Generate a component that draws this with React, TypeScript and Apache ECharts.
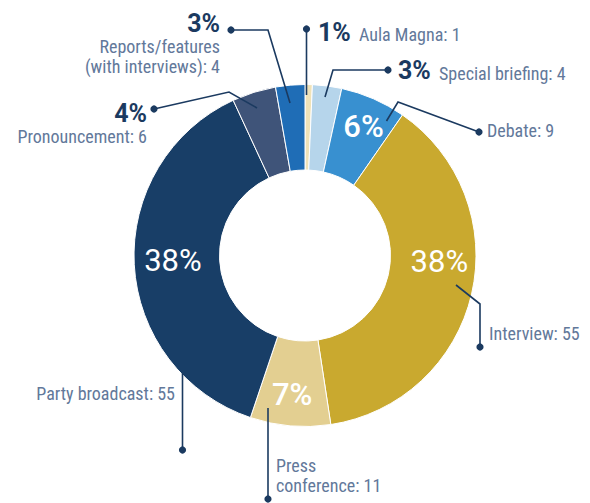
import React, { useEffect, useRef } from "react";
import * as echarts from "echarts";

// ---- data ----
const categories = [
  "Aula Magna",
  "Special briefing",
  "Debate",
  "Interview",
  "Press\nconference",
  "Party broadcast",
  "Pronouncement",
  "Reports/features\n(with interviews)",
];
const values = [1, 4, 9, 55, 11, 55, 6, 4];
const percentLabels = ["1%", "3%", "6%", "38%", "7%", "38%", "4%", "3%"];

// ---- styles / layout ----
const colors = ["#efe2b8", "#b6d5eb", "#3890d0", "#c9a92f", "#e3cf91", "#183e67", "#3f5479", "#1f6db6"];
const NAVY = "#1b3a60";
const LABEL = "#62789a";
const LABEL_FONT = '"Liberation Sans Narrow", "Roboto Condensed", "Noto Sans", sans-serif';
const PCT_FONT = 'Roboto, "Noto Sans", sans-serif';

// which slices carry their percentage inside, with offsets from the default inside position
const insideOffsets: Record<number, [number, number]> = {
  2: [6, -9],
  3: [6.5, -24],
  4: [-1.5, 8],
  5: [-1, -2],
};
const insideWeights: Record<number, number> = { 2: 500, 3: 400, 4: 500, 5: 400 };

type Ann = {
  idx: number;
  line: [number, number][];
  dot: [number, number];
  pct?: { x: number; y: number; align: "left" | "right" };
  text: { x: number; y: number; align: "left" | "right" };
};

const annotations: Ann[] = [
  { idx: 0, line: [[306.5, 29], [306.5, 95]], dot: [306.5, 29], pct: { x: 318, y: 41, align: "left" }, text: { x: 359, y: 41, align: "left" } },
  { idx: 1, line: [[388, 70], [333, 70], [325, 97]], dot: [388, 70], pct: { x: 398, y: 79, align: "left" }, text: { x: 439, y: 80, align: "left" } },
  { idx: 2, line: [[386.5, 121], [398, 102], [479, 132]], dot: [479, 132], text: { x: 487, y: 137, align: "left" } },
  { idx: 3, line: [[456, 285], [480, 304], [480, 347]], dot: [480, 347], text: { x: 489, y: 340, align: "left" } },
  { idx: 4, line: [[268, 408], [268, 499]], dot: [268, 499], text: { x: 276, y: 472, align: "left" } },
  { idx: 5, line: [[182.5, 373], [182.5, 450]], dot: [182.5, 450], text: { x: 175, y: 400, align: "right" } },
  { idx: 6, line: [[257, 108], [229, 92], [154, 109]], dot: [154, 109], pct: { x: 147, y: 122, align: "right" }, text: { x: 147, y: 143, align: "right" } },
  { idx: 7, line: [[290, 103], [268, 30], [231, 30]], dot: [231, 30], pct: { x: 220, y: 32, align: "right" }, text: { x: 220, y: 53, align: "right" } },
];

const LABEL_SIZE = 18;
const PCT_SIZE = 25;
const LINE_GAP = 20;

function buildGraphics() {
  const els: any[] = [];
  annotations.forEach((a) => {
    els.push({
      type: "polyline",
      z: 100,
      shape: { points: a.line },
      style: { stroke: NAVY, lineWidth: 1.6, fill: null },
    });
    els.push({
      type: "circle",
      z: 101,
      shape: { cx: a.dot[0], cy: a.dot[1], r: 3.6 },
      style: { fill: NAVY },
    });
    if (a.pct) {
      els.push({
        type: "text",
        z: 102,
        style: {
          text: percentLabels[a.idx],
          x: a.pct.x,
          y: a.pct.y - PCT_SIZE * 0.35,
          align: a.pct.align,
          verticalAlign: "middle",
          fill: NAVY,
          font: `bold ${PCT_SIZE}px ${PCT_FONT}`,
        },
      });
    }
    const lines = categories[a.idx].split("\n");
    lines.forEach((ln, i) => {
      const txt = i === lines.length - 1 ? `${ln}: ${values[a.idx]}` : ln;
      els.push({
        type: "text",
        z: 102,
        style: {
          text: txt,
          x: a.text.x,
          y: a.text.y + i * LINE_GAP - LABEL_SIZE * 0.35,
          align: a.text.align,
          verticalAlign: "middle",
          fill: LABEL,
          font: `${LABEL_SIZE}px ${LABEL_FONT}`,
        },
      });
    });
  });
  return els;
}

export default function App() {
  const ref = useRef<HTMLDivElement>(null);
  useEffect(() => {
    document.body.style.margin = "0";
    if (!ref.current) return;
    const chart = echarts.init(ref.current, undefined, { renderer: "svg" });
    const data = values.map((v, i) => {
      const off = insideOffsets[i];
      return {
        name: categories[i].replace("\n", " "),
        value: v,
        itemStyle: { color: colors[i] },
        label: off
          ? {
              show: true,
              position: "inside",
              formatter: percentLabels[i],
              offset: off,
              color: "#ffffff",
              fontSize: 31,
              fontWeight: insideWeights[i],
              fontFamily: PCT_FONT,
            }
          : { show: false },
      };
    });
    chart.setOption({
      animation: false,
      backgroundColor: "#ffffff",
      series: [
        {
          type: "pie",
          center: [305, 255.5],
          radius: [85.5, 171],
          startAngle: 90,
          clockwise: true,
          avoidLabelOverlap: false,
          labelLine: { show: false },
          itemStyle: { borderColor: "#ffffff", borderWidth: 1 },
          emphasis: { disabled: true },
          data,
        },
      ],
      graphic: buildGraphics(),
    });
    return () => chart.dispose();
  }, []);
  return <div ref={ref} style={{ width: 590, height: 503 }} />;
}
